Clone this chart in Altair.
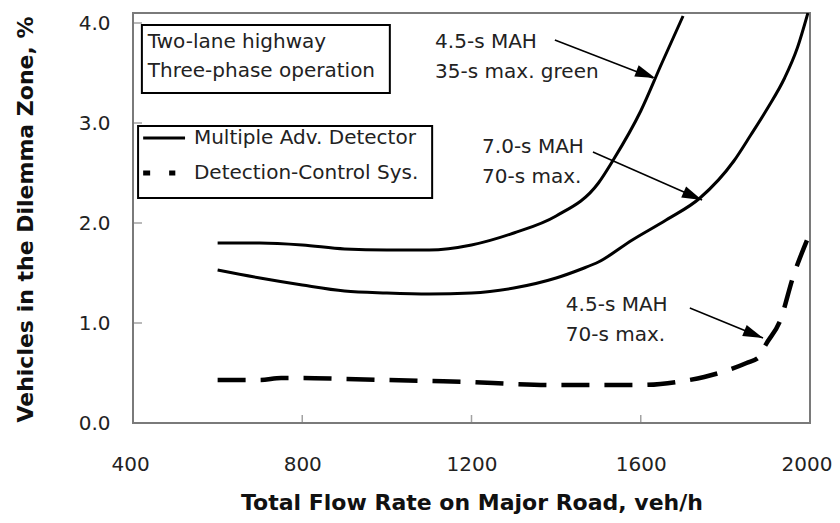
import altair as alt
import pandas as pd

# ---- data series ----
x_a = [600, 700, 800, 900, 1000, 1100, 1200, 1300, 1400, 1500, 1535, 1600, 1650, 1700]
y_a = [1.80, 1.80, 1.78, 1.74, 1.73, 1.73, 1.78, 1.90, 2.07, 2.40, 2.63, 3.12, 3.60, 4.07]

x_b = [600, 700, 800, 900, 1000, 1100, 1200, 1300, 1400, 1460, 1500, 1580, 1660, 1740, 1820, 1860, 1900, 1940, 1970, 1995]
y_b = [1.53, 1.45, 1.38, 1.32, 1.30, 1.29, 1.30, 1.35, 1.45, 1.54, 1.61, 1.83, 2.03, 2.25, 2.62, 2.88, 3.15, 3.45, 3.75, 4.10]

x_c = [600, 700, 750, 800, 900, 1000, 1100, 1200, 1300, 1400, 1500, 1600, 1700, 1750, 1800, 1850, 1880, 1895, 1930, 1960, 1993]
y_c = [0.43, 0.43, 0.45, 0.45, 0.44, 0.43, 0.42, 0.41, 0.39, 0.38, 0.38, 0.38, 0.42, 0.46, 0.52, 0.60, 0.66, 0.78, 1.03, 1.46, 1.83]

x_ticks = [400, 800, 1200, 1600, 2000]
y_ticks = [0, 1, 2, 3, 4]
x_inner_ticks = [800, 1200, 1600]
y_inner_ticks = [1, 2, 3, 4]

# ---- annotation texts and their anchor positions (data units) ----
note_text = ["4.5-s MAH", "35-s max. green", "7.0-s MAH", "70-s max.", "4.5-s MAH", "70-s max.",
             "Two-lane highway", "Three-phase operation",
             "Multiple Adv. Detector", "Detection-Control Sys."]
note_x = [1114, 1114, 1225, 1225, 1423, 1423, 435, 435, 544, 544]
note_y = [3.81, 3.51, 2.76, 2.46, 1.18, 0.88, 3.81, 3.52, 2.85, 2.50]

arrow_x1 = [1397, 1487, 1716]
arrow_y1 = [3.83, 2.71, 1.15]
arrow_x2 = [1629, 1745, 1889]
arrow_y2 = [3.45, 2.23, 0.85]
head_x = [1612, 1723, 1867]
head_y = [3.486, 2.27, 0.888]
head_angle = [111, 114, 112]

box_x1 = [421, 412]
box_x2 = [1007, 1107]
box_y1 = [3.98, 2.97]
box_y2 = [3.30, 2.25]

W, H = 677, 410
xs = alt.Scale(domain=[400, 2000], nice=False, zero=False)
ys = alt.Scale(domain=[0, 4.1], nice=False)

FONT = "DejaVu Sans"


def series(xv, yv):
    return pd.DataFrame({"x": xv, "y": yv})


xaxis = alt.Axis(values=x_ticks, format="d", title="Total Flow Rate on Major Road, veh/h",
                 labelPadding=31, labelFlush=True, labelFlushOffset=22, labelOverlap=False,
                 titleY=79, titleBaseline="middle")
yaxis = alt.Axis(values=y_ticks, format=".1f", title="Vehicles in the Dilemma Zone, %",
                 labelPadding=23, labelFlush=False, titleX=-108, titleY=H / 2 + 1,
                 titleBaseline="middle", titleAlign="center", titleAngle=270)


def X(f):
    return alt.X(f, scale=xs, axis=xaxis)


def Y(f):
    return alt.Y(f, scale=ys, axis=yaxis)


line_a = alt.Chart(series(x_a, y_a)).mark_line(
    color="black", strokeWidth=3, interpolate="monotone", clip=True
).encode(x=X("x:Q"), y=Y("y:Q"))

line_b = alt.Chart(series(x_b, y_b)).mark_line(
    color="black", strokeWidth=3, interpolate="monotone", clip=True
).encode(x=X("x:Q"), y=Y("y:Q"))

line_c = alt.Chart(series(x_c, y_c)).mark_line(
    color="black", strokeWidth=4.5, strokeDash=[28, 15], interpolate="monotone", clip=True
).encode(x=X("x:Q"), y=Y("y:Q"))

# inward tick marks
xt = alt.Chart(pd.DataFrame({"x": x_inner_ticks})).mark_tick(
    color="#7a7a7a", size=8, thickness=1.5
).encode(x=X("x:Q"), y=alt.value(H - 4))
yt = alt.Chart(pd.DataFrame({"y": y_inner_ticks})).mark_tick(
    color="#7a7a7a", size=9, thickness=1.5, orient="horizontal"
).encode(y=Y("y:Q"), x=alt.value(4.5))

boxes = alt.Chart(pd.DataFrame({"x1": box_x1, "x2": box_x2, "y1": box_y1, "y2": box_y2})).mark_rect(
    fillOpacity=0, stroke="black", strokeWidth=2
).encode(x=X("x1:Q"), x2="x2:Q", y=Y("y1:Q"), y2="y2:Q")

leg_solid = alt.Chart(pd.DataFrame({"x1": [424], "x2": [523], "y": [2.85]})).mark_rule(
    color="black", strokeWidth=3
).encode(x=X("x1:Q"), x2="x2:Q", y=Y("y:Q"))
leg_dash = alt.Chart(pd.DataFrame({"x1": [424], "x2": [500], "y": [2.50]})).mark_rule(
    color="black", strokeWidth=5, strokeDash=[7, 19]
).encode(x=X("x1:Q"), x2="x2:Q", y=Y("y:Q"))

notes = alt.Chart(pd.DataFrame({"x": note_x, "y": note_y, "t": note_text})).mark_text(
    align="left", baseline="middle", font=FONT, fontSize=20, color="#222222"
).encode(x=X("x:Q"), y=Y("y:Q"), text="t:N")

arrows = alt.Chart(pd.DataFrame({"x1": arrow_x1, "y1": arrow_y1, "x2": arrow_x2, "y2": arrow_y2})).mark_rule(
    color="black", strokeWidth=1.5
).encode(x=X("x1:Q"), x2="x2:Q", y=Y("y1:Q"), y2="y2:Q")

heads = alt.Chart(pd.DataFrame({"x": head_x, "y": head_y, "a": head_angle})).mark_point(
    shape="M0,-1L-0.6,1L0.6,1Z", filled=True, color="black", size=400, opacity=1
).encode(x=X("x:Q"), y=Y("y:Q"), angle=alt.Angle("a:Q", scale=None))

chart = alt.layer(
    line_a, line_b, line_c, xt, yt, boxes, leg_solid, leg_dash, notes, arrows, heads
).properties(
    width=W, height=H,
    background="white",
    autosize=alt.AutoSizeParams(type="none"),
    padding={"left": 125, "top": 5, "right": 22, "bottom": 92},
).configure_view(
    stroke="#7a7a7a", strokeWidth=2
).configure_axis(
    domain=False, ticks=False, tickSize=0, grid=False,
    labelFont=FONT, labelFontSize=20, labelColor="#222222",
    titleFont=FONT, titleFontSize=22, titleFontWeight="bold", titleColor="#111111",
)

chart.save("out.html", embed_options={"renderer": "svg", "actions": False})
